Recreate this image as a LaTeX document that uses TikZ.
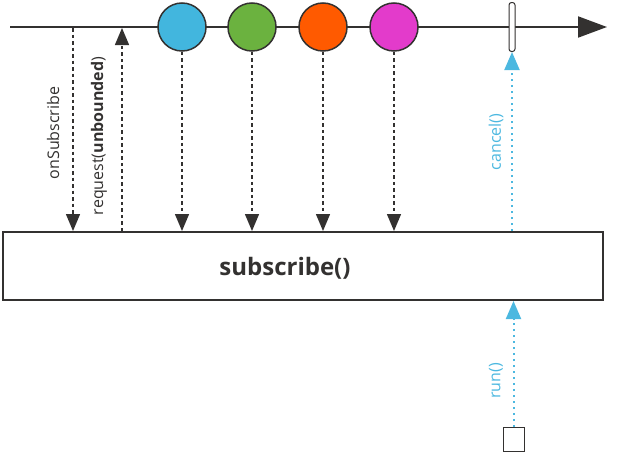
\documentclass[tikz,border=0pt]{standalone}
\usepackage{fontspec}
\setmainfont{Open Sans}
\usetikzlibrary{arrows.meta}
\definecolor{dk}{HTML}{333130}
\definecolor{cblue}{HTML}{42B6DE}
\definecolor{cgreen}{HTML}{6BB23F}
\definecolor{corange}{HTML}{FF5A00}
\definecolor{cmag}{HTML}{E33BCB}
\definecolor{cyanarr}{HTML}{4CB8E0}
\tikzset{
  marble/.style={circle, draw=dk, line width=1.5pt, minimum size=48pt, inner sep=0pt},
  evarrow/.style={draw=dk, line width=1.4pt, dash pattern=on 3.5pt off 3pt, -{Triangle[length=17pt,width=14pt]}},
  cyarrow/.style={draw=cyanarr, line width=2pt, dash pattern=on 2.5pt off 3.5pt, -{Triangle[length=18pt,width=15pt]}},
  lbl/.style={rotate=90, font=\fontsize{16}{18}\selectfont, text=dk, inner sep=0pt},
  cylbl/.style={rotate=90, font=\fontsize{16}{18}\selectfont, text=cyanarr, inner sep=0pt},
}
\begin{document}
\begin{tikzpicture}[x=1pt,y=-1pt]
\useasboundingbox (0,0) rectangle (640,455);
% timeline
\coordinate (tl0) at (10,27);
\coordinate (tl1) at (607,27);
\draw[dk, line width=2pt, -{Triangle[length=29pt,width=21pt]}] (tl0) -- (tl1);
% box
\node[draw=dk, line width=2pt, minimum width=600pt, minimum height=68pt, inner sep=0pt] (box) at (303,266) {};
\node[font=\fontsize{24}{28}\selectfont\bfseries, text=dk, inner sep=0pt] (boxlbl) at (285,268) {subscribe()};
% marbles
\node[marble, fill=cblue] (m1) at (182,27) {};
\node[marble, fill=cgreen] (m2) at (252,27) {};
\node[marble, fill=corange] (m3) at (323,27) {};
\node[marble, fill=cmag] (m4) at (394,27) {};
% cancel tick
\node[draw=dk, fill=white, line width=1pt, rounded corners=2.5pt, minimum width=6pt, minimum height=49pt, inner sep=0pt] (tick) at (512,27) {};
% onSubscribe
\coordinate (os0) at (73,28);
\draw[evarrow] (os0) -- (73,231);
\node[lbl] (oslbl) at (53,133) {onSubscribe};
% request
\coordinate (rq0) at (122,231);
\draw[evarrow] (rq0) -- (122,28);
\node[lbl] (rqlbl) at (99,136) {request(\textbf{unbounded})};
% marble emissions
\foreach \m in {m1,m2,m3,m4}{
  \draw[evarrow] (\m.south) -- (\m.south |- box.north);
}
% cancel
\draw[cyarrow] (tick.south |- box.north) -- (tick.south);
\node[cylbl] (cl) at (496,142) {cancel()};
% run
\node[draw=dk, line width=1pt, minimum width=21pt, minimum height=24pt, inner sep=0pt, fill=white] (sq) at (513.5,439.5) {};
\draw[cyarrow] (sq.north) -- (sq.north |- box.south);
\node[cylbl] (rl) at (496,381) {run()};
\end{tikzpicture}
\end{document}
